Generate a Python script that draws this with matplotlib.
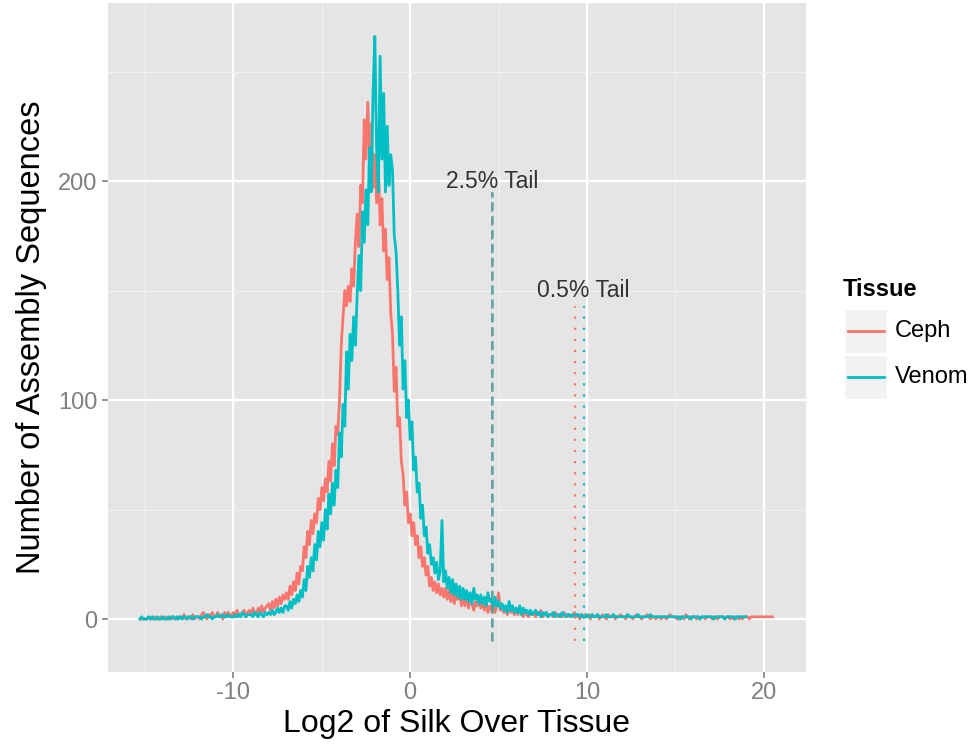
import numpy as np
import matplotlib
matplotlib.use("Agg")
import matplotlib.pyplot as plt
from matplotlib.patches import Rectangle
from matplotlib.lines import Line2D

plt.rcParams['font.family'] = ['Liberation Sans', 'DejaVu Sans']
plt.rcParams['axes.unicode_minus'] = False

# frequency polygon counts, bins of 0.1 on log2(silk/tissue)
bin_step = 0.1
ceph_start = -15.2
ceph_counts = [
    0, 0,
    0, 0, 1, 0, 0, 1, 0, 0, 0, 1,
    0, 1, 0, 0, 1, 0, 1, 0, 0, 1,
    1, 0, 2, 0, 1, 1, 0, 2, 0, 1,
    1, 0, 2, 3, 1, 0, 2, 1, 3, 1,
    1, 3, 1, 2, 0, 3, 1, 3, 1, 2,
    3, 1, 4, 2, 1, 3, 4, 1, 3, 4,
    2, 5, 3, 2, 5, 3, 6, 3, 5, 6,
    7, 4, 8, 5, 9, 6, 10, 7, 11, 9,
    12, 9, 15, 11, 17, 13, 21, 16, 24, 22,
    33, 28, 40, 34, 45, 39, 48, 44, 55, 50,
    60, 54, 64, 58, 72, 63, 80, 70, 88, 84,
    100, 125, 138, 150, 143, 152, 145, 160, 152, 172,
    185, 170, 198, 190, 228, 210, 236, 215, 226, 197,
    212, 190, 208, 180, 192, 168, 178, 155, 165, 140,
    130, 104, 115, 88, 92, 72, 66, 52, 58, 44,
    48, 38, 44, 34, 38, 28, 33, 24, 28, 20,
    24, 15, 19, 13, 17, 12, 16, 11, 14, 10,
    14, 9, 13, 8, 12, 7, 11, 9, 12, 6,
    10, 6, 11, 5, 9, 7, 4, 8, 6, 9,
    5, 8, 4, 7, 3, 6, 4, 8, 3, 6,
    12, 4, 6, 3, 5, 2, 6, 3, 5, 2,
    4, 2, 5, 3, 1, 4, 2, 1, 3, 2,
    3, 1, 3, 2, 4, 1, 2, 3, 1, 2,
    2, 1, 3, 2, 1, 2, 1, 3, 2, 1,
    2, 1, 2, 3, 1, 2, 0, 2, 1, 2,
    1, 2, 0, 2, 1, 1, 2, 0, 1, 2,
    1, 0, 2, 1, 1, 2, 0, 1, 1, 2,
    1, 1, 0, 2, 1, 1, 0, 1, 2, 1,
    1, 0, 1, 1, 2, 1, 0, 1, 1, 0,
    1, 1, 0, 1, 1, 0, 1, 2, 1, 1,
    1, 0, 0, 1, 1, 0, 2, 1, 0, 1,
    1, 1, 0, 1, 0, 1, 1, 0, 1, 1,
    1, 0, 1, 1, 0, 1, 1, 1, 0, 1,
    1, 0, 1, 0, 1, 1, 0, 1, 0, 1,
    1, 1, 0, 1, 1, 1, 1, 1, 1, 1,
    1, 1, 1, 1, 1, 1,
]
venom_start = -15.3
venom_counts = [
    0, 1, 0,
    0, 0, 1, 0, 1, 0, 0, 1, 0, 0,
    1, 0, 0, 1, 0, 1, 1, 0, 1, 0,
    1, 0, 1, 1, 0, 1, 1, 0, 1, 1,
    1, 1, 0, 1, 1, 2, 1, 1, 0, 1,
    1, 2, 1, 1, 2, 1, 1, 2, 1, 1,
    1, 2, 1, 2, 1, 3, 2, 1, 2, 2,
    2, 1, 3, 2, 1, 3, 2, 1, 3, 2,
    3, 2, 4, 2, 3, 5, 3, 5, 3, 6,
    6, 4, 8, 5, 9, 7, 11, 8, 13, 10,
    18, 13, 24, 19, 28, 22, 34, 27, 40, 33,
    44, 36, 50, 41, 57, 48, 62, 52, 68, 60,
    85, 74, 98, 88, 122, 105, 130, 118, 138, 125,
    148, 166, 150, 186, 172, 196, 180, 215, 195, 240,
    266, 215, 195, 257, 210, 240, 195, 225, 198, 212,
    205, 175, 168, 150, 125, 138, 105, 118, 92, 100,
    82, 90, 68, 74, 58, 62, 46, 52, 38, 42,
    30, 34, 25, 28, 21, 26, 18, 22, 45, 17,
    22, 14, 19, 12, 18, 11, 16, 10, 15, 9,
    14, 9, 13, 8, 12, 7, 14, 9, 11, 7,
    11, 7, 10, 6, 12, 8, 9, 5, 10, 6,
    8, 5, 7, 4, 6, 3, 8, 4, 6, 3,
    5, 3, 6, 2, 5, 3, 4, 2, 4, 2,
    3, 4, 2, 3, 1, 3, 2, 3, 1, 2,
    2, 3, 1, 2, 2, 1, 3, 2, 1, 2,
    2, 1, 2, 1, 2, 2, 1, 2, 1, 1,
    2, 1, 1, 2, 1, 1, 2, 1, 1, 1,
    1, 2, 1, 1, 1, 2, 1, 1, 1, 1,
    1, 1, 1, 2, 1, 1, 1, 1, 1, 2,
    1, 1, 1, 1, 1, 1, 2, 1, 1, 1,
    1, 1, 1, 1, 1, 1, 1, 1, 1, 1,
    1, 1, 1, 0, 1, 1, 1, 1, 1, 0,
    1, 1, 1, 1, 0, 1, 1, 1, 1, 1,
    1, 1, 0, 1, 1, 1, 1, 1, 0, 1,
    1, 1, 1, 1, 0, 1, 1, 1, 1, 1,
    1,
]

tissues = ['Ceph', 'Venom']
colors = {'Ceph': '#F8766D', 'Venom': '#00BFC4'}

# tail cut-offs per tissue
tail25 = {'Ceph': 4.64, 'Venom': 4.65}
tail05 = {'Ceph': 9.30, 'Venom': 9.82}
tail25_top, tail05_top, tail_bottom = 195, 143, -10
labels = [('2.5% Tail', 4.65, 200), ('0.5% Tail', 9.8, 150)]

fig = plt.figure(figsize=(9.79, 7.51), dpi=100)
ax = fig.add_axes([108 / 979, 1 - 672 / 751, 698 / 979, 669 / 751])
ax.set_facecolor('#E5E5E5')

ceph_x = ceph_start + bin_step * np.arange(len(ceph_counts))
venom_x = venom_start + bin_step * np.arange(len(venom_counts))
ax.plot(ceph_x, ceph_counts, color=colors['Ceph'], lw=2.0, zorder=3)
ax.plot(venom_x, venom_counts, color=colors['Venom'], lw=2.0, zorder=3)

for t in tissues:
    ax.vlines(tail25[t], tail_bottom, tail25_top, colors=colors[t], lw=2.0,
              linestyles=(0, (3.2, 1.8)), alpha=0.5, zorder=4)
    ax.vlines(tail05[t], tail_bottom, tail05_top, colors=colors[t], lw=1.6,
              linestyles=(0, (1, 4)), zorder=4)
# the two dashed cut-offs overlap, which reads darker in the original
ax.vlines(np.mean(list(tail25.values())), tail_bottom, tail25_top, colors='#4F8F8F',
          lw=1.2, linestyles=(0, (5.3, 3.0)), alpha=0.6, zorder=4)
for txt, lx, ly in labels:
    ax.text(lx, ly, txt, ha='center', va='center', fontsize=16.5, color='#333333', zorder=5)

ax.set_xlim(-17.1, 22.4)
ax.set_ylim(-24.2, 281.3)
ax.set_xticks([-10, 0, 10, 20])
ax.set_yticks([0, 100, 200])
ax.set_xticks([-15, -5, 5, 15], minor=True)
ax.set_yticks([50, 150, 250], minor=True)
ax.grid(which='major', color='white', lw=1.6, zorder=0)
ax.grid(which='minor', color='#F2F2F2', lw=0.8, zorder=0)
ax.set_axisbelow(True)
for s in ax.spines.values():
    s.set_visible(False)
ax.tick_params(which='major', length=4.5, width=1.2, color='#7F7F7F',
               labelcolor='#7F7F7F', labelsize=17, pad=3)
ax.tick_params(which='minor', length=0)
ax.set_xlabel('Log2 of Silk Over Tissue', fontsize=23, labelpad=3)
ax.set_ylabel('Number of Assembly Sequences', fontsize=23.5, labelpad=8)

# legend in ggplot style
W, H = 979, 751
fig.text(843 / W, 1 - 289 / H, 'Tissue', fontsize=17, fontweight='bold', va='center', ha='left')
for i, t in enumerate(tissues):
    top = 309 + i * 46
    fig.add_artist(Rectangle((844 / W, 1 - (top + 44) / H), 43 / W, 44 / H,
                             transform=fig.transFigure, facecolor='#F2F2F2',
                             edgecolor='white', lw=1))
    yc = 1 - (top + 22) / H
    fig.add_artist(Line2D([848 / W, 884 / W], [yc, yc], transform=fig.transFigure,
                          color=colors[t], lw=2.0))
    fig.text(895 / W, yc, t, fontsize=17, va='center', ha='left')

fig.savefig('out.png', dpi=100)
